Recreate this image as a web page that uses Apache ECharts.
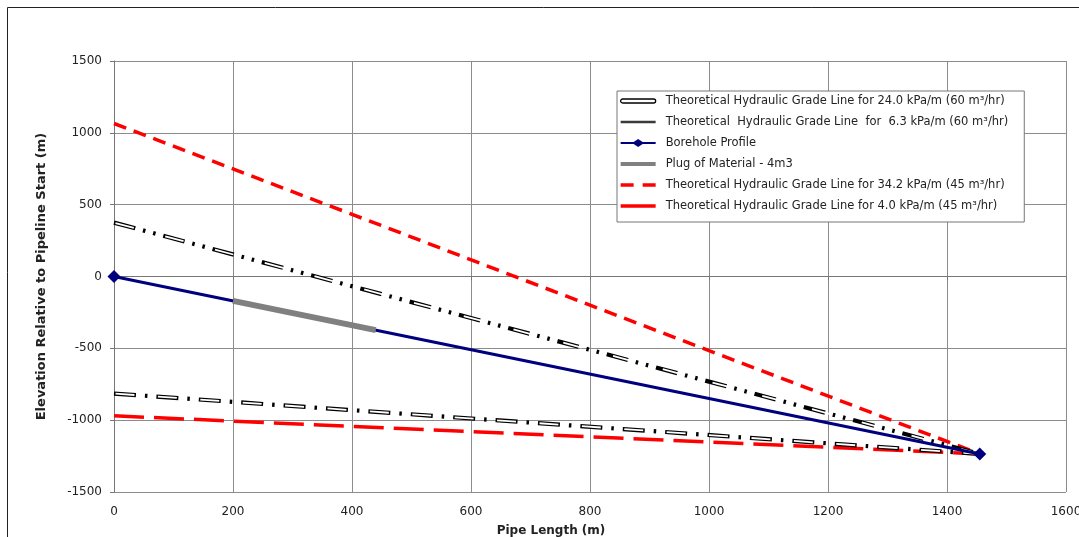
<!DOCTYPE html>
<html><head><meta charset="utf-8">
<script src="https://cdn.jsdelivr.net/npm/echarts@6/dist/echarts.min.js"></script>
<style>html,body{margin:0;padding:0;background:#fff}#c{width:1079px;height:537px}</style>
</head><body><div id="c"></div>
<script>
const xTicks = [0, 200, 400, 600, 800, 1000, 1200, 1400, 1600];
const yTicks = [-1500, -1000, -500, 0, 500, 1000, 1500];
const seriesNames = [
  'Theoretical Hydraulic Grade Line for 24.0 kPa/m (60 m³/hr)',
  'Theoretical  Hydraulic Grade Line  for  6.3 kPa/m (60 m³/hr)',
  'Borehole Profile',
  'Plug of Material - 4m3',
  'Theoretical Hydraulic Grade Line for 34.2 kPa/m (45 m³/hr)',
  'Theoretical Hydraulic Grade Line for 4.0 kPa/m (45 m³/hr)'
];
const hgl24 = [[0, 375], [1455, -1235]];
const hgl63 = [[0, -815], [1455, -1235]];
const borehole = [[0, 0], [1455, -1235]];
const plug = [[200, -170], [440, -373]];
const hgl342 = [[0, 1065], [1455, -1235]];
const hgl40 = [[0, -970], [1455, -1235]];

const chart = echarts.init(document.getElementById('c'), null, {renderer: 'canvas'});
const font = 'DejaVu Sans, sans-serif';
function hollow(name, data, dash, inner) {
  return [
    {name: name, type: 'line', data: data, symbol: 'none', z: 3,
     lineStyle: {color: '#000', width: 4.2, type: dash, cap: 'butt'}},
    {name: name + '_in', type: 'line', data: data, symbol: 'none', z: 4, silent: true,
     lineStyle: {color: '#fff', width: 1.8, type: inner, dashOffset: -1.5, cap: 'butt'}}
  ];
}
const legendIcons = [
  {icon: 'path://M2,2 L33,2 A2,2 0 0 1 33,6 L2,6 A2,2 0 0 1 2,2 Z', itemStyle: {color: '#fff', borderColor: '#000', borderWidth: 1.3}},
  {icon: 'path://M2,0 L32,0 L32,2.2 L2,2.2 Z', itemStyle: {color: '#3a3a3a', borderWidth: 0}},
  {icon: 'path://M0,3 L13,3 L17.5,0 L22,3 L35,3 L35,5 L22,5 L17.5,8 L13,5 L0,5 Z', itemStyle: {color: '#00007f', borderWidth: 0}},
  {icon: 'path://M0,0 L35,0 L35,4 L0,4 Z', itemStyle: {color: '#808080', borderWidth: 0}},
  {icon: 'path://M0,0 L13,0 L13,3.5 L0,3.5 Z M22,0 L35,0 L35,3.5 L22,3.5 Z', itemStyle: {color: '#ff0000', borderWidth: 0}},
  {icon: 'path://M0,0 L35,0 L35,3.5 L0,3.5 Z', itemStyle: {color: '#ff0000', borderWidth: 0}}
];
const option = {
  backgroundColor: '#fff',
  animation: false,
  graphic: [{type: 'rect', shape: {x: 7.5, y: 7.5, width: 1100, height: 600},
    style: {fill: 'none', stroke: '#222', lineWidth: 1}, silent: true, z: -10}],
  grid: {left: 114, right: 13, top: 61, bottom: 45, containLabel: false, outerBoundsMode: 'none'},
  legend: {
    data: seriesNames.map((n, i) => Object.assign({name: n}, legendIcons[i])),
    orient: 'vertical', left: 617, top: 91,
    itemWidth: 35, itemHeight: 8, itemGap: 9,
    backgroundColor: '#fff', borderColor: '#777', borderWidth: 1,
    padding: [4, 16, 10, 3],
    textStyle: {fontFamily: font, fontSize: 11.5, color: '#222', padding: [0, 0, 0, 5]}
  },
  xAxis: {
    type: 'value', min: 0, max: 1600, interval: 200,
    name: 'Pipe Length (m)', nameLocation: 'middle', nameGap: 33,
    nameTextStyle: {fontFamily: font, fontSize: 12, fontWeight: 'bold', color: '#222', padding: [0, 78, 0, 0]},
    axisLine: {show: true, lineStyle: {color: '#777'}},
    axisTick: {show: true, length: 4, lineStyle: {color: '#777'}},
    axisLabel: {fontFamily: font, fontSize: 12, color: '#222', margin: 14, formatter: v => String(v)},
    splitLine: {show: true, lineStyle: {color: '#8c8c8c', width: 1}}
  },
  yAxis: {
    type: 'value', min: -1500, max: 1500, interval: 500,
    name: 'Elevation Relative to Pipeline Start (m)', nameLocation: 'middle', nameGap: 66,
    nameTextStyle: {fontFamily: font, fontSize: 13, fontWeight: 'bold', color: '#222'},
    axisLine: {show: true, lineStyle: {color: '#777'}},
    axisTick: {show: true, length: 4, lineStyle: {color: '#777'}},
    axisLabel: {fontFamily: font, fontSize: 12, color: '#222', margin: 12, formatter: v => String(v)},
    splitLine: {show: true, lineStyle: {color: '#8c8c8c', width: 1}}
  },
  series: [
    ...hollow(seriesNames[0], hgl24, [22, 8, 2.5, 8, 2.5, 8], [19, 32.5]),
    ...hollow(seriesNames[1], hgl63, [22, 9, 2.5, 9], [19, 23.5]),
    {name: seriesNames[2], type: 'line', data: borehole, symbol: 'diamond', symbolSize: 13, z: 5,
     itemStyle: {color: '#00007f'}, lineStyle: {color: '#00007f', width: 3}},
    {name: seriesNames[3], type: 'line', data: plug, symbol: 'none', z: 6,
     itemStyle: {color: '#808080'}, lineStyle: {color: '#808080', width: 6, cap: 'butt'}},
    {name: seriesNames[4], type: 'line', data: hgl342, symbol: 'none', z: 2,
     itemStyle: {color: '#ff0000'}, lineStyle: {color: '#ff0000', width: 3.5, type: [13, 8], cap: 'butt'}},
    {name: seriesNames[5], type: 'line', data: hgl40, symbol: 'none', z: 2,
     itemStyle: {color: '#ff0000'}, lineStyle: {color: '#ff0000', width: 3.5, type: [30, 10], cap: 'butt'}}
  ]
};
chart.setOption(option);
</script></body></html>
